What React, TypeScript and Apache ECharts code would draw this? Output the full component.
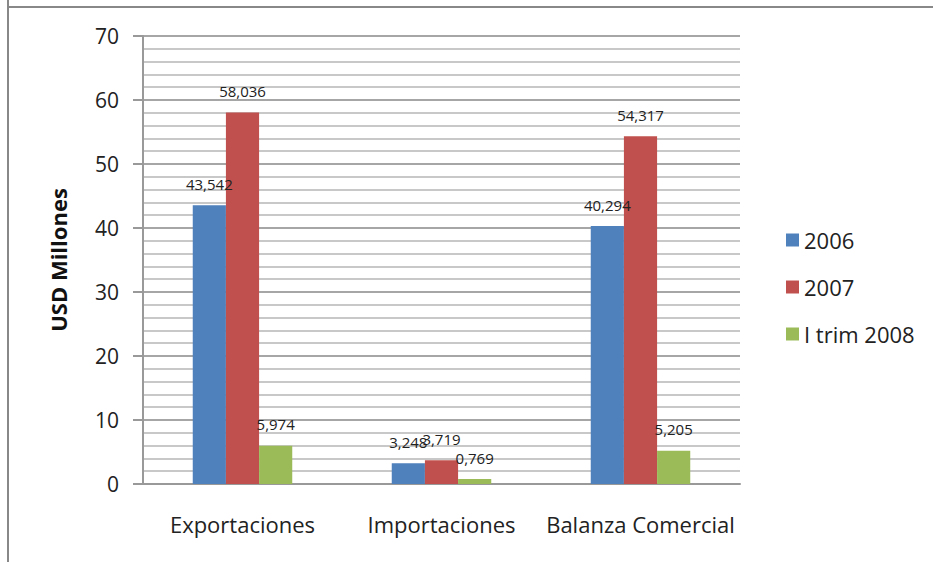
import React, { useEffect, useRef } from "react";
import * as echarts from "echarts";

const categories = ["Exportaciones", "Importaciones", "Balanza Comercial"];
const seriesNames = ["2006", "2007", "I trim 2008"];
const values2006 = [43.542, 3.248, 40.294];
const values2007 = [58.036, 3.719, 54.317];
const valuesTrim2008 = [5.974, 0.769, 5.205];
const colors = ["#4f81bd", "#c0504d", "#9bbb59"];

const FONT = "'Open Sans', sans-serif";

export default function App() {
  const ref = useRef<HTMLDivElement>(null);
  useEffect(() => {
    if (!ref.current) return;
    const chart = echarts.init(ref.current, undefined, { renderer: "svg" });
    const data = [values2006, values2007, valuesTrim2008];
    chart.setOption({
      animation: false,
      backgroundColor: "#ffffff",
      textStyle: { fontFamily: FONT },
      grid: { left: 143, right: 193, top: 36, bottom: 78 },
      legend: {
        orient: "vertical",
        left: 781,
        top: 224,
        itemWidth: 13,
        itemHeight: 13,
        itemGap: 25,
        icon: "rect",
        data: seriesNames,
        textStyle: { fontSize: 22, lineHeight: 22, color: "#222", fontFamily: FONT, padding: [0, 0, 0, 0] },
      },
      xAxis: {
        type: "category",
        data: categories,
        axisLine: { show: true, lineStyle: { color: "#999", width: 2 } },
        axisTick: { show: false },
        axisLabel: { interval: 0, fontSize: 22, color: "#222", margin: 29, fontFamily: FONT },
      },
      yAxis: {
        type: "value",
        min: 0,
        max: 70,
        interval: 10,
        name: "USD Millones",
        nameLocation: "middle",
        nameGap: 74,
        nameTextStyle: { fontSize: 22, fontWeight: "bold", color: "#111", fontFamily: FONT },
        axisLine: { show: true, lineStyle: { color: "#999", width: 2 } },
        axisTick: { show: true, length: 10, lineStyle: { color: "#999", width: 2 } },
        axisLabel: { fontSize: 21, color: "#222", margin: 24, fontFamily: FONT },
        splitLine: { show: true, lineStyle: { color: "#a6a6a6", width: 2 } },
        minorTick: { show: false, splitNumber: 5 },
        minorSplitLine: { show: true, lineStyle: { color: "#c8c8c8", width: 2 } },
      },
      graphic: [
        { type: "line", shape: { x1: 8, y1: 0, x2: 8, y2: 562 }, style: { stroke: "#888", lineWidth: 2 } },
        { type: "line", shape: { x1: 8, y1: 7, x2: 933, y2: 7 }, style: { stroke: "#888", lineWidth: 2 } },
      ],
      series: seriesNames.map((name, i) => ({
        name,
        type: "bar",
        data: data[i],
        barGap: "0%",
        barCategoryGap: "50%",
        itemStyle: { color: colors[i] },
        label: {
          show: true,
          position: "top",
          distance: 14,
          fontSize: 15,
          color: "#222",
          fontFamily: FONT,
          formatter: (p: any) => p.value.toFixed(3).replace(".", ","),
        },
      })),
    });
    return () => chart.dispose();
  }, []);
  return (
    <div
      ref={ref}
      style={{ position: "absolute", left: 0, top: 0, width: 933, height: 562 }}
    />
  );
}
